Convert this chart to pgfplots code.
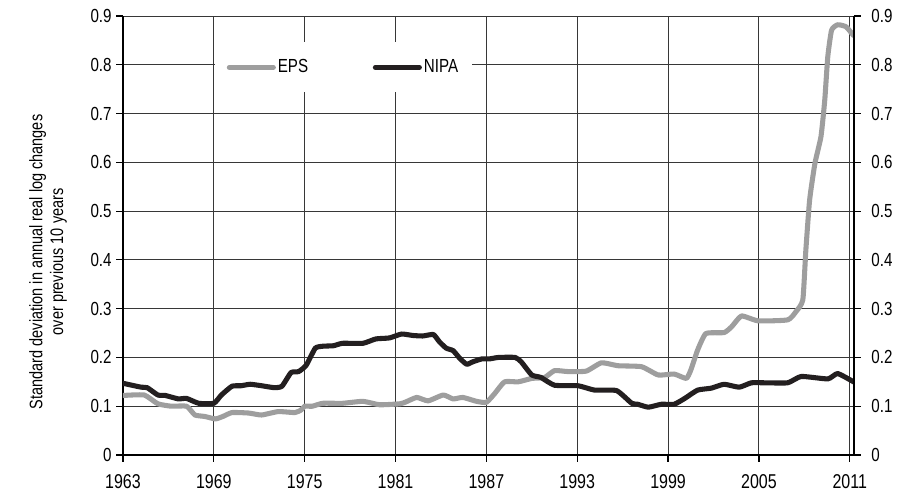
\documentclass[border=0pt]{standalone}
\usepackage{pgfplots}
\pgfplotsset{compat=1.18}
\usepackage{fontspec}
\setmainfont{Liberation Sans}[FakeStretch=0.8]
\definecolor{epsgray}{RGB}{158,158,158}
\definecolor{nipablack}{RGB}{35,31,32}
\definecolor{gridc}{RGB}{55,55,55}

\pgfplotstableread{
x y
1963.0 0.122
1964.4 0.123
1965.3 0.105
1966.2 0.100
1967.2 0.100
1967.75 0.082
1968.4 0.079
1969.1 0.074
1969.6 0.079
1970.2 0.087
1971.3 0.086
1972.15 0.082
1973.25 0.089
1974.35 0.087
1974.75 0.092
1975.0 0.100
1975.5 0.100
1976.2 0.106
1977.5 0.106
1978.85 0.110
1979.95 0.103
1981.3 0.105
1981.7 0.109
1982.4 0.118
1983.15 0.111
1984.15 0.123
1984.8 0.115
1985.45 0.118
1986.35 0.110
1987.0 0.108
1987.55 0.126
1988.2 0.150
1989.1 0.150
1990.0 0.157
1990.85 0.159
1991.5 0.173
1992.4 0.171
1993.6 0.172
1994.6 0.189
1995.7 0.183
1997.25 0.181
1998.35 0.164
1999.4 0.166
2000.2 0.157
2000.5 0.174
2000.95 0.215
2001.5 0.249
2002.7 0.251
2003.2 0.263
2003.85 0.285
2004.95 0.275
2006.9 0.277
2007.45 0.294
2007.9 0.318
2008.1 0.420
2008.35 0.523
2008.7 0.598
2009.1 0.653
2009.35 0.728
2009.55 0.817
2009.8 0.871
2010.2 0.882
2010.75 0.878
2011.25 0.860
}\epsdata

\pgfplotstableread{
x y
1963.0 0.147
1964.2 0.139
1964.6 0.138
1965.3 0.123
1965.8 0.122
1966.65 0.115
1967.2 0.116
1968.0 0.106
1969.0 0.106
1969.5 0.123
1970.2 0.141
1970.8 0.142
1971.4 0.145
1972.15 0.142
1973.0 0.138
1973.5 0.141
1974.1 0.169
1974.6 0.171
1975.1 0.184
1975.7 0.219
1976.2 0.223
1976.9 0.224
1977.5 0.229
1978.85 0.229
1979.7 0.238
1980.6 0.240
1981.4 0.248
1982.15 0.245
1982.8 0.244
1983.5 0.247
1983.9 0.232
1984.35 0.219
1984.8 0.214
1985.25 0.198
1985.7 0.186
1986.1 0.191
1986.7 0.197
1987.2 0.197
1987.8 0.200
1988.9 0.200
1989.3 0.191
1990.0 0.164
1990.6 0.159
1991.5 0.143
1993.05 0.142
1994.15 0.133
1995.6 0.132
1996.6 0.106
1997.0 0.104
1997.7 0.098
1998.55 0.104
1999.4 0.104
2000.1 0.116
2000.95 0.133
2001.85 0.137
2002.7 0.145
2003.7 0.139
2004.5 0.148
2005.4 0.148
2006.9 0.148
2007.8 0.161
2009.55 0.156
2010.2 0.167
2011.25 0.150
}\nipadata

\begin{document}
\begin{tikzpicture}
\useasboundingbox (-92.25pt,-30pt) rectangle (583.5pt,341.25pt);
\begin{axis}[
  scale only axis,
  width=548.25pt, height=329.25pt,
  at={(0,0)}, anchor=south west,
  xmin=1963, xmax=2011.28,
  ymin=0, ymax=0.9,
  axis x line*=bottom,
  axis y line*=left,
  axis line style={line width=1.5pt, black},
  xtick={1963,1969,...,2011},
  ytick={0,0.1,...,0.9},
  xticklabel style={/pgf/number format/1000 sep={}, inner sep=1pt, yshift=-8.25pt, font=\fontsize{15}{18}\selectfont},
  yticklabel style={/pgf/number format/fixed, /pgf/number format/precision=1, font=\fontsize{14.2}{17}\selectfont},
  /pgf/number format/assume math mode=true,
  tick align=outside,
  major tick length=5pt,
  tick style={line width=0.9pt, black},
  grid=major,
  major grid style={line width=0.7pt, gridc},
  ylabel={Standard deviation in annual real log changes\\over previous 10 years},
  ylabel style={align=center, font=\fontsize{13.6}{15.5}\selectfont, at={(axis description cs:-0.1026,0.44)}, anchor=center},
  legend style={at={(0.3016,0.883)}, anchor=center, draw=none, fill=white,
    font=\fontsize{14.2}{17}\selectfont, inner xsep=9pt, inner ysep=11pt,
    column sep=0pt, nodes={inner xsep=1.5pt, inner ysep=2pt},
    /tikz/every even column/.append style={column sep=47pt}},
  legend columns=2,
  legend image code/.code={\draw[#1, line cap=round] (0pt,0pt) -- (33pt,0pt);},
]
\addplot[epsgray, line width=3.8pt, line join=round, line cap=round, smooth, tension=0.3] table {\epsdata};
\addlegendentry{EPS}
\addplot[nipablack, line width=3.8pt, line join=round, line cap=round, smooth, tension=0.3] table {\nipadata};
\addlegendentry{NIPA}
\end{axis}
\begin{axis}[
  scale only axis,
  width=548.25pt, height=329.25pt,
  at={(0,0)}, anchor=south west,
  xmin=1963, xmax=2011.28,
  ymin=0, ymax=0.9,
  axis x line=none,
  axis y line*=right,
  axis line style={line width=1.5pt, black},
  ytick={0,0.1,...,0.9},
  yticklabel style={/pgf/number format/fixed, /pgf/number format/precision=1, xshift=4.5pt, font=\fontsize{14.2}{17}\selectfont},
  /pgf/number format/assume math mode=true,
  tick align=outside,
  major tick length=5pt,
  tick style={line width=0.9pt, black},
]
\addplot[draw=none] coordinates {(1963,0) (2011,0.9)};
\end{axis}
\end{tikzpicture}
\end{document}
